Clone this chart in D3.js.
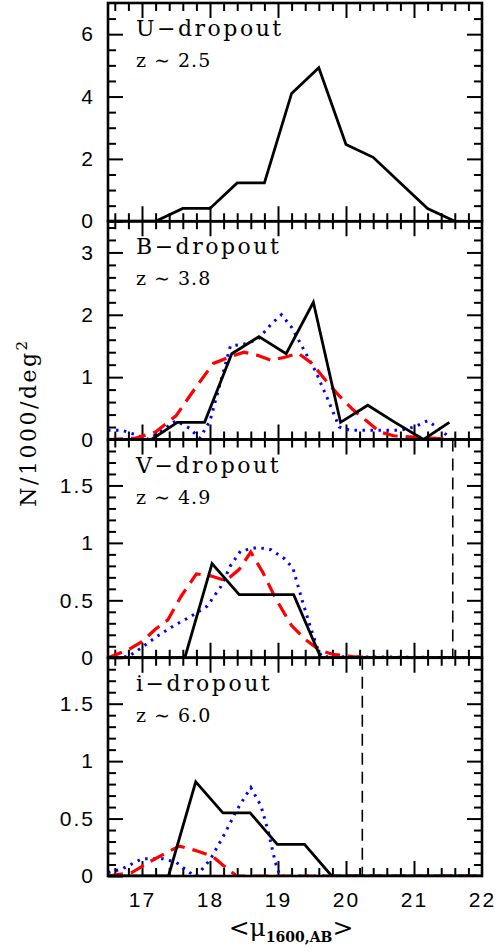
<!DOCTYPE html>
<html>
<head>
<meta charset="utf-8">
<script src="https://cdn.jsdelivr.net/npm/d3@7"></script>
<style>
  body { margin: 0; background: #fff; }
  svg { display: block; font-family: "DejaVu Serif", serif; }
  .tick text { font-size: 21px; fill: #000; letter-spacing: 2px; }
</style>
</head>
<body>
<script>
// ---- data ----
const xDomain = [16.5, 22];
const xTicks = [17, 18, 19, 20, 21, 22];

const panelNames = ['U\u2212dropout', 'B\u2212dropout', 'V\u2212dropout', 'i\u2212dropout'];
const panelRedshifts = ['z \u223c 2.5', 'z \u223c 3.8', 'z \u223c 4.9', 'z \u223c 6.0'];
const panelYMax = [7, 3.5, 1.9, 1.9];
const panelYTicks = [[0, 2, 4, 6], [0, 1, 2, 3], [0, 0.5, 1, 1.5], [0, 0.5, 1, 1.5]];
const panelYMinor = [0.5, 0.2, 0.1, 0.1];

// U-dropout
const uSolid = [[16.5, 0], [17.2, 0], [17.6, 0.41], [18.0, 0.41], [18.4, 1.23], [18.8, 1.23], [19.2, 4.1],
  [19.6, 4.92], [20.0, 2.46], [20.4, 2.05], [20.8, 1.23], [21.2, 0.41], [21.6, 0]];

// B-dropout
const bSolid = [[16.5, 0], [17.14, 0], [17.52, 0.275], [17.92, 0.275], [18.32, 1.375], [18.72, 1.65],
  [19.12, 1.375], [19.52, 2.2], [19.92, 0.275], [20.32, 0.55], [20.72, 0.275], [21.14, 0], [21.52, 0.275]];
const bDashed = [[16.5, 0], [16.9, 0.02], [17.2, 0.12], [17.5, 0.38], [17.8, 0.85], [18.05, 1.22],
  [18.3, 1.33], [18.5, 1.4], [18.7, 1.35], [18.9, 1.27], [19.1, 1.32], [19.3, 1.38], [19.5, 1.22],
  [19.7, 0.95], [19.9, 0.7], [20.1, 0.48], [20.3, 0.3], [20.5, 0.12], [20.7, 0.06], [21.0, 0.04],
  [21.3, 0.02], [21.6, 0]];
const bDotted = [[16.5, 0.15], [16.7, 0.15], [16.9, 0.08], [17.1, 0], [17.3, 0.15], [17.5, 0.3],
  [17.7, 0.18], [17.85, 0.02], [18.0, 0.3], [18.15, 0.9], [18.3, 1.5], [18.5, 1.53], [18.7, 1.6],
  [18.9, 1.85], [19.05, 2.0], [19.2, 1.8], [19.35, 1.5], [19.55, 1.1], [19.75, 0.6], [19.9, 0.2],
  [20.05, 0.15], [20.8, 0.15], [21.0, 0.2], [21.2, 0.3], [21.4, 0.15], [21.55, 0], [22, 0]];

// V-dropout
const vSolid = [[16.5, 0], [17.63, 0], [18.03, 0.82], [18.43, 0.55], [18.83, 0.55], [19.23, 0.55],
  [19.63, 0], [22, 0]];
const vDashed = [[16.5, 0], [16.8, 0.07], [17.0, 0.14], [17.2, 0.25], [17.38, 0.33], [17.58, 0.54],
  [17.8, 0.73], [18.03, 0.71], [18.23, 0.67], [18.43, 0.77], [18.6, 0.92], [18.78, 0.74], [18.97, 0.51],
  [19.2, 0.28], [19.4, 0.16], [19.6, 0.07], [19.8, 0.03], [20.1, 0.01], [20.4, 0], [22, 0]];
const vDotted = [[16.5, 0], [16.8, 0.01], [17.0, 0.09], [17.23, 0.19], [17.47, 0.28], [17.72, 0.36],
  [17.96, 0.45], [18.16, 0.62], [18.3, 0.8], [18.45, 0.93], [18.7, 0.96], [18.9, 0.94], [19.1, 0.86],
  [19.22, 0.78], [19.35, 0.51], [19.47, 0.28], [19.57, 0.1], [19.64, 0.01], [22, 0]];
const vLimit = 21.57;

// i-dropout
const iSolid = [[16.5, 0], [17.39, 0], [17.79, 0.82], [18.19, 0.55], [18.59, 0.55], [18.99, 0.275],
  [19.39, 0.275], [19.79, 0], [22, 0]];
const iDashed = [[16.5, 0], [16.85, 0.03], [17.1, 0.12], [17.35, 0.2], [17.55, 0.26], [17.8, 0.22],
  [18.04, 0.17], [18.2, 0.09], [18.39, 0], [22, 0]];
const iDotted = [[16.5, 0.03], [16.7, 0.06], [17.0, 0.15], [17.3, 0.15], [17.5, 0.12], [17.7, 0.03],
  [17.8, 0], [18.0, 0.14], [18.2, 0.35], [18.4, 0.58], [18.6, 0.77], [18.75, 0.61], [18.86, 0.38],
  [18.96, 0.12], [19.03, 0], [22, 0]];
const iLimit = 20.24;

const panelSeries = [
  { solid: uSolid },
  { solid: bSolid, dashed: bDashed, dotted: bDotted },
  { solid: vSolid, dashed: vDashed, dotted: vDotted, limit: vLimit },
  { solid: iSolid, dashed: iDashed, dotted: iDotted, limit: iLimit }
];

// ---- layout ----
const chartWidth = 499;
const chartHeight = 952;
const margin = { top: 3, right: 17, bottom: 76, left: 108 };
const plotWidth = chartWidth - margin.left - margin.right;
const panelHeight = (chartHeight - margin.top - margin.bottom) / 4;
const majorLen = 15;
const minorLen = 8;

const svg = d3.select('body').append('svg')
    .attr('width', chartWidth)
    .attr('height', chartHeight);

const xScale = d3.scaleLinear().domain(xDomain).range([0, plotWidth]);
const xMinor = d3.range(16.6, 22.0, 0.2).map(v => +v.toFixed(1)).filter(v => !xTicks.includes(v));

const lineStyles = {
  dotted: { stroke: '#0000ff', width: 3, dash: '2.5,5.5' },
  dashed: { stroke: '#ff0000', width: 3.2, dash: '15,8' },
  solid: { stroke: '#000', width: 2.8, dash: null }
};

function cleanAxis(g) {
  g.select('.domain').remove();
  g.selectAll('.tick line').attr('stroke', '#000').attr('stroke-width', 2);
}

panelSeries.forEach((series, i) => {
  const yMax = panelYMax[i];
  const yScale = d3.scaleLinear().domain([0, yMax]).range([panelHeight, 0]);
  const yMinor = d3.range(0, yMax + 1e-6, panelYMinor[i]).map(v => +v.toFixed(2))
      .filter(v => !panelYTicks[i].includes(v) && v < yMax - 1e-6 && v > 0);
  const isLast = i === panelSeries.length - 1;

  const panel = svg.append('g')
      .attr('transform', `translate(${margin.left},${margin.top + i * panelHeight})`);

  panel.append('clipPath')
      .attr('id', `clip${i}`)
    .append('rect')
      .attr('width', plotWidth)
      .attr('height', panelHeight);

  // axes, ticks pointing inward
  panel.append('g')
      .call(d3.axisLeft(yScale).tickValues(panelYTicks[i]).tickSize(-majorLen).tickPadding(13)
        .tickFormat(d3.format('')))
      .call(cleanAxis);
  panel.append('g')
      .call(d3.axisLeft(yScale).tickValues(yMinor).tickSize(-minorLen).tickFormat(''))
      .call(cleanAxis);
  panel.append('g')
      .attr('transform', `translate(${plotWidth},0)`)
      .call(d3.axisRight(yScale).tickValues(panelYTicks[i].filter(v => v > 0)).tickSize(-majorLen).tickFormat(''))
      .call(cleanAxis);
  panel.append('g')
      .attr('transform', `translate(${plotWidth},0)`)
      .call(d3.axisRight(yScale).tickValues(yMinor).tickSize(-minorLen).tickFormat(''))
      .call(cleanAxis);

  panel.append('g')
      .call(d3.axisTop(xScale).tickValues(xTicks.filter(v => v < 22)).tickSize(-majorLen).tickFormat(''))
      .call(cleanAxis);
  panel.append('g')
      .call(d3.axisTop(xScale).tickValues(xMinor).tickSize(-minorLen).tickFormat(''))
      .call(cleanAxis);
  panel.append('g')
      .attr('transform', `translate(0,${panelHeight})`)
      .call(d3.axisBottom(xScale).tickValues(xTicks).tickSize(-majorLen).tickPadding(16)
        .tickFormat(isLast ? d3.format('') : ''))
      .call(cleanAxis)
      .call(g => g.selectAll('.tick line').filter(d => d === 22).remove());
  panel.append('g')
      .attr('transform', `translate(0,${panelHeight})`)
      .call(d3.axisBottom(xScale).tickValues(xMinor).tickSize(-minorLen).tickFormat(''))
      .call(cleanAxis);

  // data lines
  const lines = panel.append('g').attr('clip-path', `url(#clip${i})`);
  const line = d3.line()
      .x(d => xScale(d[0]))
      .y(d => yScale(d[1]));

  ['dotted', 'dashed', 'solid'].forEach(key => {
    if (!series[key]) return;
    const st = lineStyles[key];
    lines.append('path')
        .attr('d', line(series[key]))
        .attr('fill', 'none')
        .attr('stroke', st.stroke)
        .attr('stroke-width', st.width)
        .attr('stroke-dasharray', st.dash)
        .attr('stroke-linejoin', 'miter');
  });

  if (series.limit) {
    lines.append('line')
        .attr('x1', xScale(series.limit))
        .attr('x2', xScale(series.limit))
        .attr('y1', yScale(yMax))
        .attr('y2', yScale(0))
        .attr('stroke', '#000')
        .attr('stroke-width', 1.6)
        .attr('stroke-dasharray', '12,7');
  }

  // frame
  panel.append('rect')
      .attr('width', plotWidth)
      .attr('height', panelHeight)
      .attr('fill', 'none')
      .attr('stroke', '#000')
      .attr('stroke-width', 2.6);

  // panel labels
  panel.append('text')
      .attr('x', 28)
      .attr('y', 33)
      .attr('font-size', 22)
      .attr('letter-spacing', 2.5)
      .text(panelNames[i]);

  panel.append('text')
      .attr('x', 28)
      .attr('y', 64)
      .attr('font-size', 19)
      .attr('letter-spacing', 1)
      .text(panelRedshifts[i]);
});

// axis titles
svg.append('text')
    .attr('transform', `translate(36,${margin.top + 2 * panelHeight - 17}) rotate(-90)`)
    .attr('text-anchor', 'middle')
    .attr('font-size', 22)
    .attr('letter-spacing', 2.5)
    .call(t => {
      t.append('tspan').text('N/1000/deg');
      t.append('tspan').attr('dy', -9).attr('font-size', 15).text('2');
    });

svg.append('text')
    .attr('x', margin.left + plotWidth / 2 - 4)
    .attr('y', 936)
    .attr('text-anchor', 'middle')
    .attr('font-size', 25)
    .call(t => {
      t.append('tspan').text('<\u03bc');
      t.append('tspan').attr('dy', 6).attr('font-size', 14).attr('font-weight', 'bold').text('1600,AB');
      t.append('tspan').attr('dy', -6).text('>');
    });
</script>
</body>
</html>
